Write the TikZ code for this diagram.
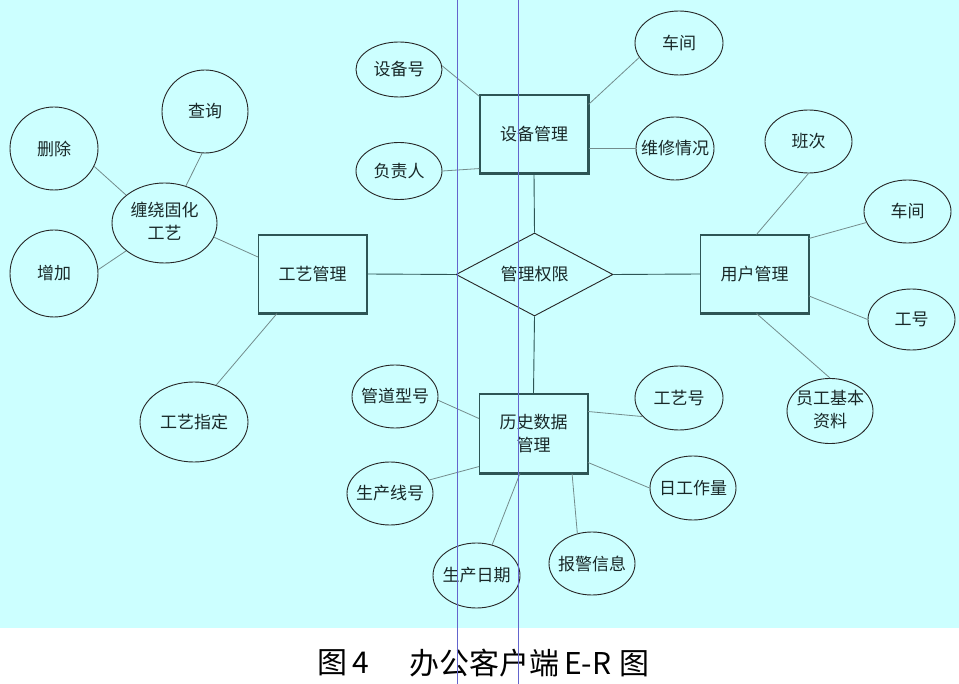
\documentclass[tikz,border=0pt]{standalone}
\usepackage{fontspec}
\setmainfont{Noto Sans CJK SC}
\usetikzlibrary{shapes.geometric,calc}
\definecolor{bgc}{RGB}{204,255,255}
\definecolor{edgec}{RGB}{45,85,85}
\definecolor{attrc}{RGB}{115,140,140}
\definecolor{vlinec}{RGB}{100,100,205}
\definecolor{txtc}{RGB}{25,40,40}
\newcommand{\onel}[1]{\makebox[0pt]{#1}}
\newcommand{\twol}[2]{\makebox[0pt]{\begin{tabular}{@{}c@{}}#1\\#2\end{tabular}}}
\begin{document}
\begin{tikzpicture}[x=1pt,y=-1pt,
  attr/.style={ellipse, draw=black!85, line width=0.9pt, inner sep=0pt,
    text=txtc, font=\fontsize{17}{23}\selectfont},
  ent/.style={rectangle, draw=edgec, line width=1.1pt, inner sep=0pt,
    text=txtc, font=\fontsize{17}{23}\selectfont, align=center,
    minimum width=108pt, minimum height=78pt},
  rel/.style={diamond, draw=black!85, line width=0.9pt, inner sep=0pt,
    aspect=1.9, minimum width=157pt, minimum height=83pt,
    text=txtc, font=\fontsize{17}{23}\selectfont},
  alink/.style={draw=attrc, line width=0.8pt},
  mlink/.style={draw=edgec, line width=0.9pt},
  shadowedge/.style={draw=edgec, line width=2.6pt},
  vguide/.style={draw=vlinec, line width=0.8pt},
  captext/.style={inner sep=0pt, anchor=west, text=black, font=\fontsize{30}{32}\selectfont}]
\useasboundingbox (0,0) rectangle (959,684);
\fill[bgc] (0,0) rectangle (959,628);
\fill[white] (0,628) rectangle (959,684);

% entities and relationship
\node[ent] (sbgl) at (534,134) {设备管理};
\node[ent] (gygl) at (312.5,274) {工艺管理};
\node[ent] (yhgl) at (754.5,274) {用户管理};
\node[ent, minimum height=79pt] (lsgl) at (533.5,433.5) {历史数据\\管理};
\node[rel] (qx) at (534.5,274.5) {管理权限};
\foreach \n in {sbgl,gygl,yhgl,lsgl}{
  \draw[shadowedge] (\n.north east) -- (\n.south east) -- (\n.south west);
}

% attributes
\node[attr, minimum width=86pt, minimum height=55pt] (sbh) at (399,69.5) {\onel{设备号}};
\node[attr, minimum width=86pt, minimum height=57pt] (fzr) at (399,171) {\onel{负责人}};
\node[attr, minimum width=88pt, minimum height=64pt] (cj1) at (679,43) {\onel{车间}};
\node[attr, minimum width=78pt, minimum height=63pt] (wxqk) at (675,148.5) {\onel{维修情况}};
\node[attr, minimum width=88pt, minimum height=83pt] (sc) at (54,148.5) {\onel{删除}};
\node[attr, minimum width=86pt, minimum height=83pt] (cx) at (205,111.5) {\onel{查询}};
\node[attr, minimum width=88pt, minimum height=87pt] (zj) at (54,273.5) {\onel{增加}};
\node[attr, minimum width=105pt, minimum height=80pt] (crgh) at (164.5,223) {\twol{缠绕固化}{工艺}};
\node[attr, minimum width=108pt, minimum height=80pt] (gyzd) at (194,422) {\onel{工艺指定}};
\node[attr, minimum width=87pt, minimum height=63pt] (bc) at (808.5,141.5) {\onel{班次}};
\node[attr, minimum width=87pt, minimum height=63pt] (cj2) at (907.5,211.5) {\onel{车间}};
\node[attr, minimum width=87pt, minimum height=61pt] (gh) at (911.5,319.5) {\onel{工号}};
\node[attr, minimum width=86pt, minimum height=64pt] (ygzl) at (830,411) {\twol{员工基本}{资料}};
\node[attr, minimum width=86pt, minimum height=63pt] (gdxh) at (395,396.5) {\onel{管道型号}};
\node[attr, minimum width=86pt, minimum height=63pt] (scxh) at (390,493.5) {\onel{生产线号}};
\node[attr, minimum width=87pt, minimum height=65pt] (scrq) at (476.5,575.5) {\onel{生产日期}};
\node[attr, minimum width=86pt, minimum height=63pt] (bjxx) at (592,563.5) {\onel{报警信息}};
\node[attr, minimum width=88pt, minimum height=64pt] (gyh) at (679,398) {\onel{工艺号}};
\node[attr, minimum width=86pt, minimum height=64pt] (rgzl) at (693,488) {\onel{日工作量}};

% main connectors
\draw[mlink] (sbgl.south) -- (qx.north);
\draw[mlink] (gygl.east) -- (qx.west);
\draw[mlink] (qx.east) -- (yhgl.west);
\draw[mlink] (qx.south) -- (lsgl.north);

% attribute connectors
\draw[alink] (sbh.5) -- ([yshift=-2pt]sbgl.north west);
\draw[alink] (fzr.east) -- ([yshift=5pt]sbgl.south west);
\draw[alink] (cj1.200) -- ([yshift=-10pt]sbgl.north east);
\draw[alink] (wxqk.west) -- (wxqk.west -| sbgl.east);

\draw[alink] (sc.-24) -- (crgh.144);
\draw[alink] (cx.-94) -- (crgh.60);
\draw[alink] (zj.5) -- (crgh.216);
\draw[alink] (crgh.-16) -- ([yshift=17pt]gygl.west);
\draw[alink] (gyzd.59) -- ([xshift=19pt]gygl.south west);

\draw[alink] (bc.south) -- ([xshift=2pt]yhgl.north);
\draw[alink] (cj2.195) -- ([yshift=-4pt]yhgl.north east);
\draw[alink] (gh.west) -- ([yshift=-22pt]yhgl.east);
\draw[alink] (ygzl.north) -- ([xshift=2pt]yhgl.south);

\draw[alink] (gdxh.-5) -- ([yshift=15pt]lsgl.west);
\draw[alink] (scxh.19) -- ([yshift=7pt]lsgl.south west);
\draw[alink] (scrq.63) -- ([xshift=41pt]lsgl.south west);
\draw[alink] (bjxx.116) -- ([xshift=-16pt]lsgl.south east);
\draw[alink] (gyh.207) -- ([yshift=22pt]lsgl.east);
\draw[alink] (rgzl.west) -- ([yshift=-29pt]lsgl.east);

% caption
\node[captext] (cap1) at (317,663) {图\hspace{5pt}4};
\node[captext] (cap2) at (409,663) {办公客户端\hspace{5pt}E-R\hspace{8pt}图};

% vertical guide lines
\draw[vguide] (457.5,0) -- (457.5,684);
\draw[vguide] (518.7,0) -- (518.7,684);
\end{tikzpicture}
\end{document}
